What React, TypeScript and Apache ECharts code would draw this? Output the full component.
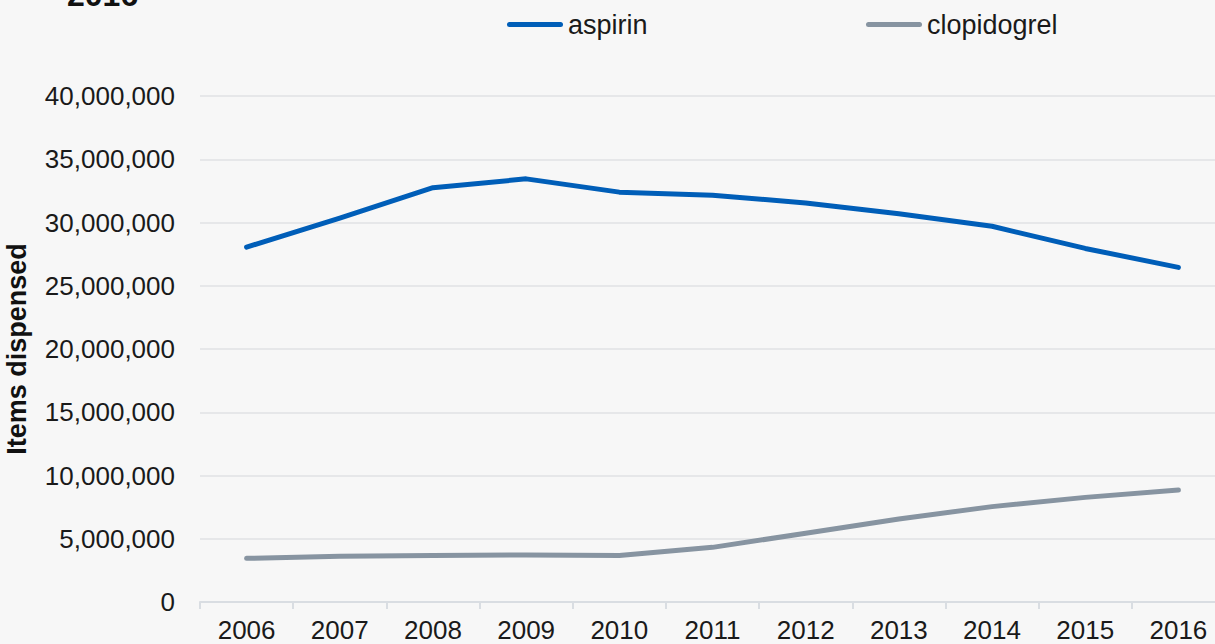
import React, { useEffect, useRef } from "react";
import * as echarts from "echarts";

const years = ["2006", "2007", "2008", "2009", "2010", "2011", "2012", "2013", "2014", "2015", "2016"];
const aspirin = [28050000, 30350000, 32750000, 33450000, 32400000, 32150000, 31550000, 30700000, 29700000, 27950000, 26450000];
const clopidogrel = [3450000, 3620000, 3680000, 3720000, 3680000, 4320000, 5430000, 6560000, 7540000, 8270000, 8850000];
const seriesNames = ["aspirin", "clopidogrel"];
const titleText = "2016";
const yAxisTitle = "Items dispensed";

const pill = "path://M2.5,0H53.5A2.5,2.5,0,0,1,53.5,5H2.5A2.5,2.5,0,0,1,2.5,0Z";

export default function App() {
  const ref = useRef<HTMLDivElement>(null);
  useEffect(() => {
    if (!ref.current) return;
    const chart = echarts.init(ref.current, null, { renderer: "svg" });
    const font = "'Liberation Sans', Arial, Helvetica, sans-serif";
    const legendCommon = {
      top: 11,
      icon: pill,
      itemWidth: 56,
      itemHeight: 5,
      padding: 0,
      selectedMode: false,
      textStyle: { fontSize: 27, color: "#1a1a1a", fontFamily: font },
    };
    chart.setOption({
      animation: false,
      backgroundColor: "#f7f7f7",
      textStyle: { fontFamily: font },
      graphic: [
        {
          type: "text",
          x: 67,
          y: -5,
          style: {
            text: titleText,
            fontSize: 32,
            fontWeight: "bold",
            fontFamily: font,
            fill: "#111",
            verticalAlign: "middle",
          },
        },
      ],
      legend: [
        { ...legendCommon, left: 507, data: [seriesNames[0]] },
        { ...legendCommon, left: 866, data: [seriesNames[1]] },
      ],
      grid: { left: 200, right: -10, top: 96, bottom: 42, outerBoundsMode: "none", containLabel: false },
      xAxis: {
        type: "category",
        data: years,
        boundaryGap: true,
        axisLine: { show: true, lineStyle: { color: "#d9dde2", width: 2 } },
        axisTick: { show: true, interval: 0, alignWithLabel: false, length: 7, lineStyle: { color: "#d9dde2", width: 2 } },
        axisLabel: { fontSize: 26, color: "#1a1a1a", margin: 15, interval: 0, fontFamily: font },
      },
      yAxis: {
        type: "value",
        min: 0,
        max: 40000000,
        interval: 5000000,
        name: yAxisTitle,
        nameLocation: "middle",
        nameGap: 170,
        nameTextStyle: { fontSize: 27, fontWeight: "bold", color: "#111", fontFamily: font },
        axisLine: { show: false },
        axisTick: { show: false },
        axisLabel: {
          fontSize: 26,
          color: "#1a1a1a",
          margin: 25,
          fontFamily: font,
          formatter: (v: number) => v.toLocaleString("en-US"),
        },
        splitLine: { lineStyle: { color: "#e0e2e5", width: 1.5 } },
      },
      series: [
        {
          name: seriesNames[0],
          type: "line",
          data: aspirin,
          symbol: "none",
          color: "#005EB8",
          lineStyle: { width: 5, color: "#005EB8", cap: "round", join: "round" },
        },
        {
          name: seriesNames[1],
          type: "line",
          data: clopidogrel,
          symbol: "none",
          color: "#8794a1",
          lineStyle: { width: 5, color: "#8794a1", cap: "round", join: "round" },
        },
      ],
    });
    return () => chart.dispose();
  }, []);
  return (
    <div
      ref={ref}
      style={{ position: "absolute", left: 0, top: 0, width: 1215, height: 644 }}
    />
  );
}
